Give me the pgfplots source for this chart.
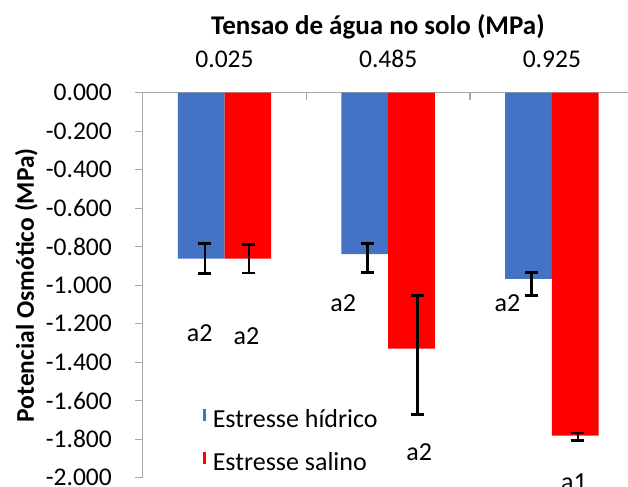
\documentclass[border=0pt]{standalone}
\usepackage{pgfplots}
\pgfplotsset{compat=1.18}
\usepackage{fontspec}
\setmainfont{Carlito}
\definecolor{myblue}{RGB}{68,114,196}
\definecolor{myred}{RGB}{255,0,0}
\definecolor{axgray}{RGB}{166,166,166}
\begin{document}
\begin{tikzpicture}[font=\fontsize{26}{31}\selectfont,
  lab/.style={anchor=base, inner sep=0pt, font=\fontsize{26}{31}\selectfont}]
\begin{axis}[
  scale only axis, width=491pt, height=385pt,
  xmin=-0.5, xmax=2.5, ymin=-2, ymax=0,
  clip=false,
  axis x line*=top, axis y line*=left,
  axis line style={axgray, line width=1.3pt},
  tick align=outside,
  major tick length=7.7pt,
  xtick={0,1,2}, xticklabels={0.025,0.485,0.925},
  every major x tick/.append style={draw=none},
  every major y tick/.append style={axgray, line width=1.3pt},
  ytick={-2,-1.8,-1.6,-1.4,-1.2,-1,-0.8,-0.6,-0.4,-0.2,0},
  xticklabel style={anchor=base, inner sep=0pt, yshift=18pt, font=\fontsize{25.5}{30}\selectfont},
  yticklabel style={/pgf/number format/.cd, fixed, fixed zerofill, precision=3, assume math mode=true, /tikz/.cd, anchor=east, inner sep=0pt, xshift=-23pt, font=\fontsize{25.5}{30}\selectfont},
  xlabel={Tensao de água no solo (MPa)},
  xlabel style={at={(axis description cs:0.479,1.1517)}, anchor=base, inner sep=0pt, font=\bfseries\fontsize{27}{32}\selectfont},
  ylabel={Potencial Osmótico (MPa)},
  ylabel style={at={(axis description cs:-0.2369,0.5)}, anchor=center, inner sep=0pt, font=\bfseries\fontsize{25.5}{30}\selectfont},
  legend style={at={(axis cs:-0.1297,-1.6416)}, anchor=north west, draw=none, fill=none,
    inner sep=0pt, outer sep=0pt, row sep=18.6pt, column sep=6.5pt,
    nodes={inner sep=0pt, text height=18pt, text depth=5pt},
    font=\fontsize{26}{31}\selectfont},
  legend cell align=left,
  legend image code/.code={\fill[#1] (0pt,0pt) rectangle (3pt,12.7pt);},
]
\addplot[ybar, bar width=46.7pt, bar shift=-23.35pt, fill=myblue, draw=none]
  coordinates {(0,-0.862) (1,-0.838) (2,-0.967)};
\addplot[ybar, bar width=46.7pt, bar shift=23.35pt, fill=myred, draw=none]
  coordinates {(0,-0.862) (1,-1.330) (2,-1.782)};
\legend{Estresse hídrico, Estresse salino}
% error bars (blue)
\addplot[forget plot, draw=none, mark=none,
  error bars/.cd, y dir=both, y explicit,
  error bar style={draw=black, solid, line width=2.8pt},
  error mark options={draw=black, rotate=90, mark size=6.5pt, line width=2.8pt}]
  coordinates {
  (-0.1194,-0.862) += (0,0.078) -= (0,0.078)
  (0.8723,-0.838) += (0,0.054) -= (0,0.096)
  (1.8767,-0.967) += (0,0.035) -= (0,0.085)
  };
% error bars (red)
\addplot[forget plot, draw=none, mark=none,
  error bars/.cd, y dir=both, y explicit,
  error bar style={draw=black, solid, line width=2.8pt},
  error mark options={draw=black, rotate=90, mark size=6.5pt, line width=2.8pt}]
  coordinates {
  (0.1495,-0.862) += (0,0.072) -= (0,0.075)
  (1.1778,-1.330) += (0,0.275) -= (0,0.343)
  (2.1596,-1.782) += (0,0.014) -= (0,0.026)
  };
\draw[axgray, line width=1.3pt] (axis cs:0.5,0) -- ++(0pt,-7.7pt);
\draw[axgray, line width=1.3pt] (axis cs:1.5,0) -- ++(0pt,-7.7pt);
\node[lab] at (axis cs:-0.1517,-1.2935) {a2};
\node[lab] at (axis cs:0.1336,-1.3055) {a2};
\node[lab] at (axis cs:0.7257,-1.1377) {a2};
\node[lab] at (axis cs:1.7289,-1.1377) {a2};
\node[lab] at (axis cs:1.19,-1.9132) {a2};
\node[lab] at (axis cs:2.1352,-2.0639) {a1};
\coordinate (bbsw) at (axis cs:-1.3719,-2.0431);
\coordinate (bbne) at (axis cs:2.4652,0.4816);
\end{axis}
\pgfresetboundingbox
\useasboundingbox (bbsw) rectangle (bbne);
\end{tikzpicture}
\end{document}
